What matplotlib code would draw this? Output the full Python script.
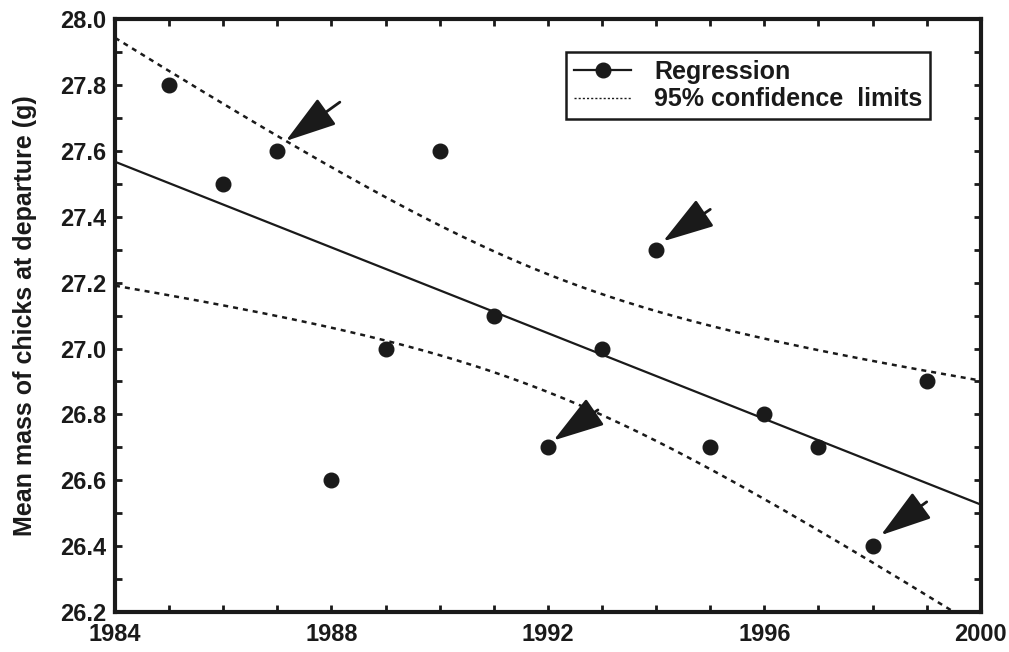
"""
Mean mass of chicks at departure, 1985-1999, with regression and 95% CI.
Output: out.png
"""

import matplotlib
matplotlib.use("Agg")
import matplotlib.pyplot as plt
from matplotlib.ticker import MultipleLocator
from matplotlib.lines import Line2D
from matplotlib.transforms import offset_copy
import numpy as np

# ---------------------------------------------------------------------------
# Data
# ---------------------------------------------------------------------------

years = [1985, 1986, 1987, 1988, 1989, 1990, 1991, 1992,
         1993, 1994, 1995, 1996, 1997, 1998, 1999]
mass  = [27.8, 27.5, 27.6, 26.6, 27.0, 27.6, 27.1, 26.7,
         27.0, 27.3, 26.7, 26.8, 26.7, 26.4, 26.9]

# points flagged with arrows
arrow_years = [1987, 1992, 1994, 1998]
arrow_mass  = [27.6, 26.7, 27.3, 26.4]

T_975 = 2.160   # t(13 df), two-sided 95%

# ---------------------------------------------------------------------------
# Fit + confidence band
# ---------------------------------------------------------------------------

x = np.array(years, dtype=float)
y = np.array(mass)
n = len(x)
slope, icept = np.polyfit(x, y, 1)
resid = y - (icept + slope * x)
s = np.sqrt(np.sum(resid ** 2) / (n - 2))
sxx = np.sum((x - x.mean()) ** 2)

xs = np.linspace(1984, 2000, 300)
fit = icept + slope * xs
half = T_975 * s * np.sqrt(1.0 / n + (xs - x.mean()) ** 2 / sxx)

# ---------------------------------------------------------------------------
# Plot
# ---------------------------------------------------------------------------

INK = "#1a1a1a"

plt.rcParams.update({
    "font.family": "Liberation Sans",
    "font.weight": "bold",
    "font.size": 17,
    "text.color": INK,
    "xtick.color": INK,
    "ytick.color": INK,
    "axes.edgecolor": INK,
    "axes.labelcolor": INK,
})

fig = plt.figure(figsize=(10.09, 6.52), dpi=100)
ax = fig.add_axes([0.114, 0.061, 0.858, 0.910])

dash = (0, (2.0, 2.0))
ax.plot(xs, fit, color=INK, lw=1.6, zorder=3)
ax.plot(xs, fit + half, color=INK, lw=1.8, ls=dash, zorder=3)
ax.plot(xs, fit - half, color=INK, lw=1.8, ls=dash, zorder=3)
ax.plot(years, mass, "o", color=INK, ms=10.5, zorder=4)

# arrows: tip offset and tail offset (points) from each flagged point
tips  = [(6, 7), (4, 5), (5, 6), (6, 8)]
tails = [(45, 35), (36, 27), (39, 29), (39, 32)]
for yr, m, tip, tail in zip(arrow_years, arrow_mass, tips, tails):
    tip_tr = offset_copy(ax.transData, fig=fig, x=tip[0], y=tip[1], units="points")
    ax.annotate("", xy=(yr, m), xycoords=tip_tr,
                xytext=(tail[0] - tip[0], tail[1] - tip[1]),
                textcoords="offset points",
                arrowprops=dict(arrowstyle="-|>,head_length=1.6,head_width=0.5",
                                color=INK, lw=2, shrinkA=0, shrinkB=0,
                                mutation_scale=20),
                annotation_clip=False, zorder=5)

ax.set_xlim(1984, 2000)
ax.set_ylim(26.2, 28.0)
ax.xaxis.set_major_locator(MultipleLocator(4))
ax.xaxis.set_minor_locator(MultipleLocator(1))
ax.yaxis.set_major_locator(MultipleLocator(0.2))
ax.yaxis.set_minor_locator(MultipleLocator(0.1))
ax.yaxis.set_major_formatter(plt.FormatStrFormatter("%.1f"))
ax.tick_params(which="both", direction="in", top=True, right=True,
               length=5, width=2, labelsize=17)
ax.tick_params(axis="x", pad=8)
ax.tick_params(axis="y", pad=6)
for sp in ax.spines.values():
    sp.set_linewidth(3)

ax.set_ylabel("Mean mass of chicks at departure (g)", fontsize=18,
              fontweight="bold", labelpad=17)

handles = [
    Line2D([], [], color=INK, lw=1.6, marker="o", ms=10.5),
    Line2D([], [], color=INK, lw=1.0, ls=(0, (1.5, 1.5))),
]
leg = ax.legend(handles, ["Regression", "95% confidence  limits"],
                loc="upper right", bbox_to_anchor=(0.941, 0.944),
                borderaxespad=0,
                fancybox=False, edgecolor=INK, framealpha=1,
                fontsize=18, handlelength=2.3, handletextpad=0.9,
                borderpad=0.3, labelspacing=0.15)
leg.get_frame().set_linewidth(1.8)

plt.savefig("out.png", dpi=100)
